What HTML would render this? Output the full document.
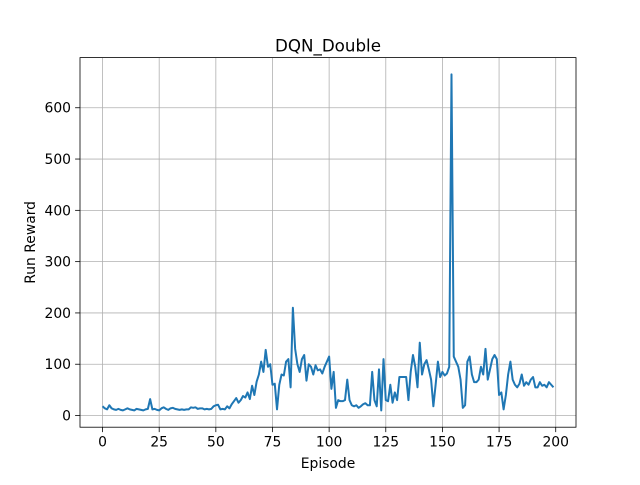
<!DOCTYPE html>
<html><head><meta charset="utf-8"><style>
body{margin:0;background:#fff;font-family:"Liberation Sans","DejaVu Sans",sans-serif;}
text{font-family:"DejaVu Sans","Liberation Sans",sans-serif;}
</style></head><body>
<svg id="c" width="640" height="480" xmlns="http://www.w3.org/2000/svg"></svg>
<script>
const rewards=[18,14,12,20,14,12,11,13,11,10,12,14,12,11,10,13,12,11,10,12,13,32,12,13,11,10,14,16,13,11,14,15,13,12,11,12,11,12,12,16,15,16,13,14,14,12,13,12,13,18,20,21,12,13,12,18,14,22,28,34,25,30,38,35,45,32,58,40,66,80,105,85,128,95,100,60,62,12,60,80,78,105,110,55,210,130,100,85,110,118,68,100,95,80,98,88,90,82,95,105,115,52,85,15,30,28,28,30,70,30,20,18,20,15,18,22,24,20,20,85,30,18,90,10,110,30,28,60,25,45,30,75,75,75,75,30,85,118,95,55,142,80,100,108,90,70,18,60,105,75,85,78,82,95,665,115,105,95,70,15,20,105,115,80,65,65,70,95,80,130,70,90,110,118,110,40,45,12,40,80,105,70,60,55,62,80,58,65,60,70,75,55,55,65,58,60,55,65,60,55];
const xTicks=[0,25,50,75,100,125,150,175,200];
const yTicks=[0,100,200,300,400,500,600];
const L=80,R=576,T=57.6,B=427.2;
const xmin=-9.95,xmax=208.95,ymin=-22.75,ymax=697.75;
const X=v=>L+(v-xmin)/(xmax-xmin)*(R-L);
const Y=v=>B-(v-ymin)/(ymax-ymin)*(B-T);
const svg=document.getElementById('c');const NS='http://www.w3.org/2000/svg';
function mk(t,a,p){const e=document.createElementNS(NS,t);for(const k in a)e.setAttribute(k,a[k]);(p||svg).appendChild(e);return e;}
xTicks.forEach(v=>{const g=mk('g',{});


mk('line',{x1:X(v),x2:X(v),y1:T,y2:B,stroke:'#b0b0b0','stroke-width':0.8},g);
mk('line',{x1:X(v),x2:X(v),y1:B,y2:B+4.9,stroke:'#000','stroke-width':0.8},g);
const t=mk('text',{x:X(v),y:B+19.5,'text-anchor':'middle','font-size':13.9},g);t.textContent=v;});
yTicks.forEach(v=>{const g=mk('g',{});


mk('line',{x1:L,x2:R,y1:Y(v),y2:Y(v),stroke:'#b0b0b0','stroke-width':0.8},g);
mk('line',{x1:L-4.9,x2:L,y1:Y(v),y2:Y(v),stroke:'#000','stroke-width':0.8},g);
const t=mk('text',{x:L-9,y:Y(v)+5,'text-anchor':'end','font-size':13.9},g);t.textContent=v;});
const p=mk('polyline',{points:rewards.map((v,i)=>X(i)+','+Y(v)).join(' '),fill:'none',stroke:'#1f77b4','stroke-width':2,'stroke-linejoin':'round'});


const f=mk('rect',{x:L,y:T,width:R-L,height:B-T,fill:'none',stroke:'#000','stroke-width':0.8});


let t=mk('text',{x:(L+R)/2,y:T-6,'text-anchor':'middle','font-size':16.7});t.textContent='DQN_Double';


t=mk('text',{x:(L+R)/2,y:468,'text-anchor':'middle','font-size':13.9});t.textContent='Episode';


t=mk('text',{x:0,y:0,'text-anchor':'middle','font-size':13.9,transform:'translate(35,'+((T+B)/2)+') rotate(-90)'});t.textContent='Run Reward';


</script>
</body></html>
